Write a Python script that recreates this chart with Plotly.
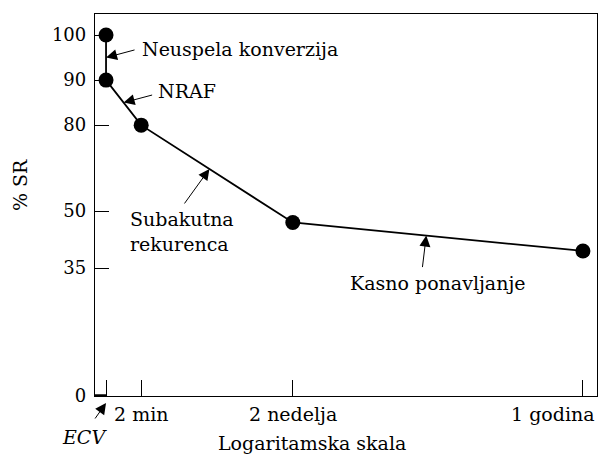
import numpy as np
import plotly.graph_objects as go

# --- data -------------------------------------------------------------
# time points (schematic logarithmic time axis)
time_labels = ["ECV", "2 min", "2 nedelja", "1 godina"]
# percentage of patients remaining in sinus rhythm (% SR)
point_times = ["ECV", "ECV", "2 min", "2 nedelja", "1 godina"]
sr_values = [100, 90, 80, 47, 39.5]
# y tick labels
sr_ticks = [0, 35, 50, 80, 90, 100]

# --- schematic axis scales --------------------------------------------
# piecewise-linear (non-uniform) vertical scale: value -> axis units
SR_SCALE_VALUES = [0, 35, 50, 80, 90, 100]
SR_SCALE_POS = [0.0, 33.5, 48.4, 70.9, 82.7, 94.5]
# horizontal (logarithmic-like) scale: time label -> axis units
TIME_SCALE_POS = {"ECV": 2.2, "2 min": 9.2, "2 nedelja": 39.4, "1 godina": 97.2}


def y_of(v):
    return float(np.interp(v, SR_SCALE_VALUES, SR_SCALE_POS))


def x_of(t):
    return TIME_SCALE_POS[t]


xs = [x_of(t) for t in point_times]
ys = [y_of(v) for v in sr_values]

W, H = 599, 455
ML, MR, MT, MB = 95, 2, 14, 59
PW, PH = W - ML - MR, H - MT - MB


def fx(px):
    return (px - ML) / PW


def fy(py):
    return (H - MB - py) / PH


FONT = "DejaVu Serif"
FS = 19

fig = go.Figure()
fig.add_trace(go.Scatter(
    x=xs, y=ys, mode="lines+markers",
    line=dict(color="black", width=1.8),
    marker=dict(color="black", size=15),
    hoverinfo="skip", showlegend=False,
))


def seg_point(i, f):
    """Point at fraction f along the segment from point i to point i+1."""
    return xs[i] + f * (xs[i + 1] - xs[i]), ys[i] + f * (ys[i + 1] - ys[i])


ann = []
arrow_style = dict(showarrow=True, arrowhead=2, arrowsize=2.2, arrowwidth=1,
                   arrowcolor="black", text="", xref="x", yref="y",
                   axref="pixel", ayref="pixel")

# arrows pointing at segments of the curve
for (i, f, dx, dy) in [(0, 0.5, 30, -8), (1, 0.5, 30, -8),
                       (2, 0.45, -26, 36), (3, 0.46, -4, 33)]:
    x0, y0 = seg_point(i, f)
    ann.append(dict(x=x0, y=y0, ax=dx, ay=dy, **arrow_style))

# arrow to the cardioversion moment on the time axis
ann.append(dict(x=x_of("ECV"), y=fy(403), xref="x", yref="paper",
                ax=-12, ay=17, axref="pixel", ayref="pixel", text="",
                showarrow=True, arrowhead=2, arrowsize=2.2, arrowwidth=1,
                arrowcolor="black"))

txt = dict(showarrow=False, xref="paper", yref="paper",
           font=dict(family=FONT, size=FS, color="black"))

ann += [
    dict(text="Neuspela konverzija", x=fx(140), y=fy(49), xanchor="left", yanchor="middle", **txt),
    dict(text="NRAF", x=fx(156), y=fy(91), xanchor="left", yanchor="middle", **txt),
    dict(text="Subakutna<br>rekurenca", x=fx(128), y=fy(231), xanchor="left", yanchor="middle",
         align="left", **txt),
    dict(text="Kasno ponavljanje", x=fx(348), y=fy(283), xanchor="left", yanchor="middle", **txt),
    dict(text="% SR", x=fx(20), y=fy(185), xanchor="center", yanchor="middle", textangle=-90, **txt),
    dict(text="Logaritamska skala", x=fx(312), y=fy(443), xanchor="center", yanchor="middle", **txt),
    dict(text="<i>ECV</i>", x=fx(84), y=fy(437), xanchor="center", yanchor="middle", **txt),
    dict(text="2 min", x=fx(141), y=fy(414), xanchor="center", yanchor="middle", **txt),
    dict(text="2 nedelja", x=fx(293), y=fy(414), xanchor="center", yanchor="middle", **txt),
    dict(text="1 godina", x=fx(597), y=fy(414), xanchor="right", yanchor="middle", **txt),
]

# heavier stretch of the time axis up to the cardioversion moment
shapes = [dict(type="line", xref="x", yref="y", x0=0, x1=x_of("ECV"), y0=0, y1=0,
               line=dict(color="black", width=3.5))]

fig.update_layout(
    width=W, height=H,
    margin=dict(l=ML, r=MR, t=MT, b=MB, pad=0),
    paper_bgcolor="white", plot_bgcolor="white",
    font=dict(family=FONT, size=FS, color="black"),
    annotations=ann,
    shapes=shapes,
    xaxis=dict(
        range=[0, 100], showgrid=False, zeroline=False,
        showline=True, linecolor="black", linewidth=1.3, mirror=True,
        ticks="inside", ticklen=16, tickwidth=1, tickcolor="black",
        tickvals=[x_of(t) for t in time_labels], showticklabels=False,
    ),
    yaxis=dict(
        range=[0, 100], showgrid=False, zeroline=False,
        showline=True, linecolor="black", linewidth=1.3, mirror=True,
        ticks="inside", ticklen=14, tickwidth=1, tickcolor="black",
        tickvals=[y_of(v) for v in sr_ticks], ticktext=[str(v) for v in sr_ticks],
        tickfont=dict(family=FONT, size=18, color="black"),
        ticklabelstandoff=4,
    ),
)

fig.write_html("out.html")
